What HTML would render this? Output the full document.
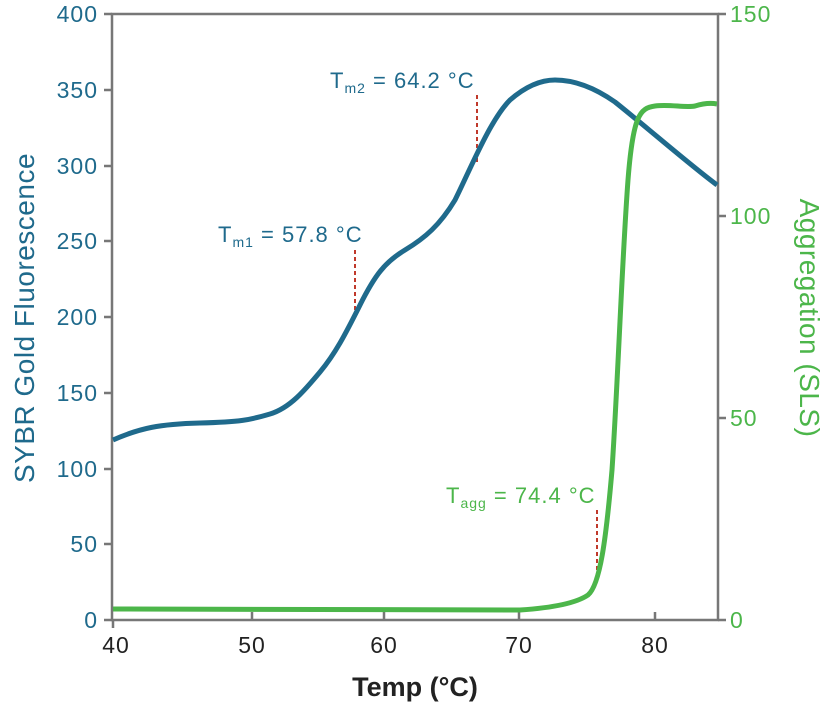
<!DOCTYPE html>
<html><head><style>body{margin:0;background:#fff}svg{display:block}text{font-family:"Liberation Sans",sans-serif}</style></head>
<body>
<svg width="832" height="708" viewBox="0 0 832 708">
<g stroke="#777" stroke-width="2.5" fill="none">
<path d="M112,14 H718 V620 H112 Z"/>
<path d="M104,14h8M104,90h8M104,166h8M104,241h8M104,317h8M104,393h8M104,469h8M104,544h8M104,620h8"/>
<path d="M718,14h8M718,216h8M718,418h8M718,620h8"/>
<path d="M113,620v8M252,620v-8M384,620v-8M519,620v-8M655,620v-8"/>
</g>
<g fill="#1f6a8c" font-size="23" text-anchor="end" letter-spacing="1">
<text x="98" y="22">400</text><text x="98" y="98">350</text><text x="98" y="174">300</text><text x="98" y="249">250</text><text x="98" y="325">200</text><text x="98" y="401">150</text><text x="98" y="477">100</text><text x="98" y="552">50</text><text x="98" y="628">0</text>
</g>
<g fill="#4cb64a" font-size="23" letter-spacing="1">
<text x="730" y="22">150</text><text x="730" y="224">100</text><text x="730" y="426">50</text><text x="730" y="628">0</text>
</g>
<g fill="#222" font-size="23" text-anchor="middle" letter-spacing="1">
<text x="116" y="653">40</text><text x="252" y="653">50</text><text x="384" y="653">60</text><text x="519" y="653">70</text><text x="655" y="653">80</text>
</g>
<text x="415" y="696" font-size="27" fill="#222" text-anchor="middle" font-weight="bold">Temp (°C)</text>
<text transform="translate(34,318) rotate(-90)" font-size="28" fill="#1f6a8c" text-anchor="middle" letter-spacing="0.5">SYBR Gold Fluorescence</text>
<text transform="translate(800,318) rotate(90)" font-size="28" fill="#4cb64a" text-anchor="middle" letter-spacing="0.5">Aggregation (SLS)</text>
<g stroke="#c0392b" stroke-width="2" stroke-dasharray="4,3">
<path d="M355,250V318M477,95V165M597,510V580"/>
</g>
<path d="M113,440 C140,428 160,424 200,423 S250,420 270,414 S305,390 320,372 S345,335 360,305 S385,262 405,250 S440,225 455,200 C470,170 490,120 510,100 C525,87 540,80 555,80 C575,80 595,88 615,102 C650,130 690,165 717,185" stroke="#1f6a8c" stroke-width="5" fill="none"/>
<path d="M113,609 L520,610 C550,608 575,604 588,595 C600,585 606,540 612,470 C618,380 622,260 628,180 C633,115 640,108 655,106 C670,104 685,108 695,106 C705,103 712,103 717,104" stroke="#4cb64a" stroke-width="5" fill="none"/>
<g fill="#1f6a8c" font-size="22" letter-spacing="1">
<text x="218" y="242">T<tspan font-size="14" dy="5">m1</tspan><tspan dy="-5"> = 57.8 °C</tspan></text>
<text x="330" y="88">T<tspan font-size="14" dy="5">m2</tspan><tspan dy="-5"> = 64.2 °C</tspan></text>
</g>
<text x="446" y="503" fill="#4cb64a" font-size="22" letter-spacing="1">T<tspan font-size="14" dy="5">agg</tspan><tspan dy="-5"> = 74.4 °C</tspan></text>
</svg>
</body></html>
